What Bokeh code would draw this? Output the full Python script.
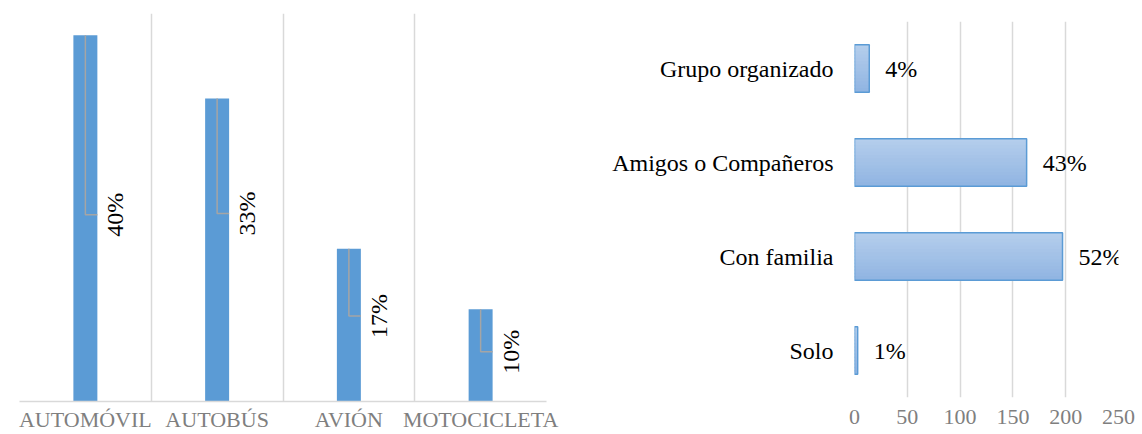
import math
from bokeh.plotting import figure
from bokeh.layouts import row, column
from bokeh.models import FixedTicker, FactorRange, Range1d, ColumnDataSource
from bokeh.transform import dodge
from bokeh.core.properties import value
from bokeh.embed import file_html
from bokeh.resources import INLINE

# ---- data: left chart (medio de transporte) ----
transport = ["AUTOMÓVIL", "AUTOBÚS", "AVIÓN", "MOTOCICLETA"]
transport_counts = [151, 125, 63, 38]
transport_pct = ["40%", "33%", "17%", "10%"]
label_frac = [0.51, 0.62, 0.56, 0.54]   # where each rotated label sits along its bar

# ---- data: right chart (compañía) ----
company = ["Solo", "Con familia", "Amigos o Compañeros", "Grupo organizado"]
company_counts = [3, 197, 163, 14]
company_pct = ["1%", "52%", "43%", "4%"]
company_ticks = [0, 50, 100, 150, 200, 250]

SERIF = "Liberation Serif"
GRID = "#D9D9D9"
BLUE = "#5B9BD5"
GRAYTXT = "#7F7F7F"

# ================= left chart =================
left = figure(width=588, height=434, x_range=Range1d(0, 4), y_range=Range1d(0, 160),
              output_backend="svg", toolbar_location=None,
              min_border_left=19, min_border_right=42, min_border_top=13, min_border_bottom=30)
centers = [i + 0.5 for i in range(len(transport))]
bw = 0.182
left.vbar(x=centers, top=transport_counts, width=bw, fill_color=BLUE, line_color=None)

xs = [[c, c, c + bw / 2] for c in centers]
ys = [[v, v * f, v * f] for v, f in zip(transport_counts, label_frac)]
left.multi_line(xs=xs, ys=ys, line_color="#A5A5A5", line_width=1.5)
left.text(x=centers, y=[v * f for v, f in zip(transport_counts, label_frac)], text=transport_pct,
          angle=math.pi / 2, x_offset=30, text_align="center", text_baseline="middle",
          text_font=value(SERIF), text_font_size="24px", text_color="black")

left.xaxis.ticker = FixedTicker(ticks=centers)
left.xaxis.major_label_overrides = {c: t for c, t in zip(centers, transport)}
left.xaxis.axis_line_color = GRID
left.xaxis.axis_line_width = 1.5
left.xaxis.major_tick_line_color = None
left.xaxis.minor_tick_line_color = None
left.xaxis.major_tick_out = 0
left.xaxis.major_tick_in = 0
left.xaxis.minor_tick_out = 0
left.xaxis.major_label_text_font = SERIF
left.xaxis.major_label_text_font_size = "22px"
left.xaxis.major_label_text_color = GRAYTXT
left.xaxis.major_label_standoff = 5
left.yaxis.visible = False
left.ygrid.visible = False
left.xgrid.ticker = FixedTicker(ticks=[0, 1, 2, 3, 4])
left.xgrid.grid_line_color = GRID
left.xgrid.grid_line_width = 1.5
left.outline_line_color = None

# ================= right chart =================
right = figure(width=554, height=434, x_range=Range1d(0, 250), y_range=FactorRange(*company),
               output_backend="svg", toolbar_location=None,
               min_border_left=266, min_border_right=24, min_border_top=21, min_border_bottom=37)

src = ColumnDataSource(dict(y=company, right=company_counts))
bar_h = 0.505
n_slices = 14
top_rgb = (0xB6, 0xCF, 0xEC)
bot_rgb = (0x90, 0xB4, 0xE2)
for k in range(n_slices):
    t = (k + 0.5) / n_slices
    col = "#%02x%02x%02x" % tuple(int(round(a + (b - a) * t)) for a, b in zip(top_rgb, bot_rgb))
    off = bar_h / 2 - (k + 0.5) * bar_h / n_slices
    right.hbar(y=dodge("y", off, range=right.y_range), right="right", height=bar_h / n_slices * 1.45,
               source=src, fill_color=col, line_color=None)
right.hbar(y="y", right="right", height=bar_h, source=src, fill_color=None,
           line_color=BLUE, line_width=1.5)
right.text(x=company_counts, y=company, text=company_pct, x_offset=16,
           text_align="left", text_baseline="middle",
           text_font=value(SERIF), text_font_size="24px", text_color="black")

right.xaxis.ticker = FixedTicker(ticks=company_ticks)
right.xaxis.axis_line_color = None
right.xaxis.major_tick_line_color = None
right.xaxis.minor_tick_line_color = None
right.xaxis.major_tick_out = 0
right.xaxis.major_tick_in = 0
right.xaxis.minor_tick_out = 0
right.xaxis.major_label_text_font = SERIF
right.xaxis.major_label_text_font_size = "22px"
right.xaxis.major_label_text_color = GRAYTXT
right.xaxis.major_label_standoff = 12
right.xgrid.ticker = FixedTicker(ticks=company_ticks)
right.xgrid.grid_line_color = GRID
right.xgrid.grid_line_width = 1.5
right.ygrid.visible = False
right.yaxis.axis_line_color = None
right.yaxis.major_tick_line_color = None
right.yaxis.major_tick_out = 0
right.yaxis.major_tick_in = 0
right.yaxis.major_label_text_font = SERIF
right.yaxis.major_label_text_font_size = "24px"
right.yaxis.major_label_text_color = "black"
right.yaxis.major_label_standoff = 21
right.outline_line_color = None

layout = row(column(left), column(right))
open("out.html", "w").write(file_html(layout, INLINE))
